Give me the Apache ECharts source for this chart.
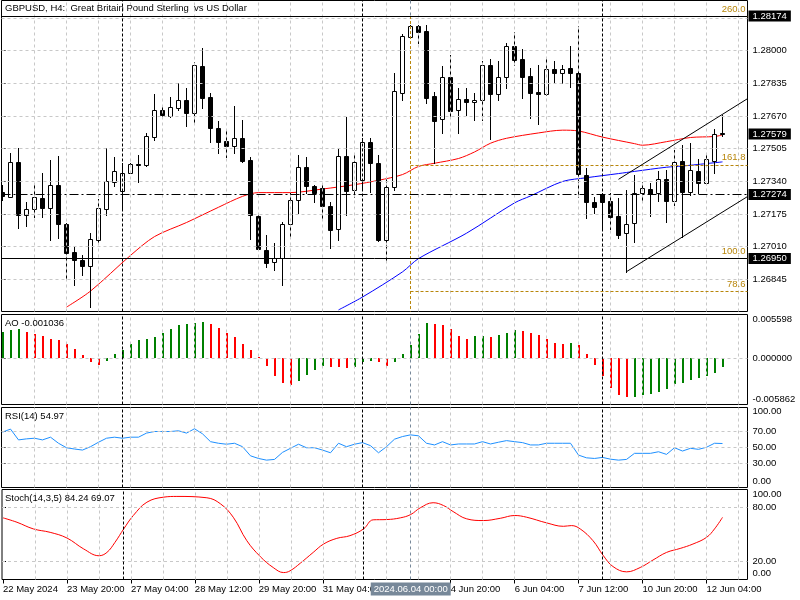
<!DOCTYPE html>
<html><head><meta charset="utf-8">
<script src="https://cdn.jsdelivr.net/npm/echarts@6/dist/echarts.min.js"></script>
<style>html,body{margin:0;padding:0;background:#fff}#c{width:800px;height:600px}</style>
</head><body><div id="c"></div><script>
// ---------------- DATA ----------------
const opens = [1.27286,1.27263,1.27439,1.27169,1.27199,1.27254,1.27204,1.27322,1.27123,1.26985,
1.26943,1.26914,1.27044,1.27200,1.27338,1.27293,1.27384,1.27428,1.27422,1.27565,
1.27700,1.27671,1.27712,1.27750,1.27686,1.27922,1.27767,1.27611,1.27544,1.27520,
1.27560,1.27448,1.27165,1.26994,1.26935,1.26952,1.27125,1.27246,1.27414,1.27318,
1.27305,1.27216,1.27098,1.27468,1.27296,1.27347,1.27537,1.27431,1.27044,1.27313,
1.27787,1.28070,1.28124,1.28100,1.27771,1.27655,1.27865,1.27700,1.27755,1.27739,
1.27750,1.27927,1.27781,1.27865,1.28023,1.27956,1.27872,1.27789,1.27781,1.27905,
1.27885,1.27910,1.27888,1.27372,1.27237,1.27276,1.27242,1.27165,1.27078,1.27128,
1.27283,1.27300,1.27280,1.27350,1.27242,1.27443,1.27288,1.27394,1.27333,1.27440,
1.27584];
const highs = [1.27322,1.27483,1.27510,1.27237,1.27322,1.27384,1.27448,1.27468,1.27130,1.27010,
1.26968,1.27078,1.27249,1.27510,1.27464,1.27433,1.27434,1.27473,1.27582,1.27779,
1.27720,1.27764,1.27835,1.27809,1.27944,1.28011,1.27784,1.27646,1.27599,1.27720,
1.27650,1.27464,1.27170,1.27069,1.27027,1.27136,1.27280,1.27473,1.27464,1.27322,
1.27322,1.27234,1.27508,1.27666,1.27473,1.27557,1.27560,1.27473,1.27357,1.27885,
1.28083,1.28129,1.28129,1.28129,1.27792,1.27922,1.27977,1.27811,1.27812,1.27787,
1.27949,1.27956,1.27949,1.28040,1.28095,1.28006,1.27913,1.27927,1.27966,1.27947,
1.27927,1.28023,1.28124,1.27406,1.27263,1.27280,1.27280,1.27254,1.27296,1.27372,
1.27335,1.27330,1.27392,1.27397,1.27498,1.27523,1.27533,1.27451,1.27482,1.27603,
1.27675];
const lows = [1.27246,1.27261,1.27105,1.27115,1.27162,1.27159,1.27044,1.27054,1.26851,1.26817,
1.26867,1.26707,1.27030,1.27170,1.27316,1.27205,1.27381,1.27338,1.27417,1.27549,
1.27670,1.27663,1.27700,1.27619,1.27636,1.27709,1.27540,1.27482,1.27464,1.27482,
1.27438,1.27048,1.26994,1.26909,1.26893,1.26817,1.27061,1.27179,1.27280,1.27237,
1.27145,1.27002,1.27044,1.27170,1.27263,1.27306,1.27288,1.27039,1.26943,1.27296,
1.27750,1.28063,1.28036,1.27734,1.27433,1.27585,1.27670,1.27584,1.27675,1.27650,
1.27650,1.27552,1.27750,1.27809,1.27927,1.27759,1.27658,1.27629,1.27776,1.27838,
1.27835,1.27815,1.27263,1.27154,1.27179,1.27094,1.27100,1.27053,1.26884,1.27035,
1.27246,1.27165,1.27242,1.27136,1.27221,1.27061,1.27271,1.27283,1.27325,1.27381,
1.27569];
const closes = [1.27266,1.27439,1.27170,1.27199,1.27259,1.27204,1.27322,1.27123,1.26977,1.26943,
1.26914,1.27048,1.27204,1.27342,1.27394,1.27384,1.27428,1.27420,1.27569,1.27700,
1.27675,1.27714,1.27750,1.27686,1.27927,1.27762,1.27611,1.27540,1.27520,1.27560,
1.27444,1.27170,1.26999,1.26929,1.26952,1.27125,1.27246,1.27414,1.27318,1.27283,
1.27216,1.27094,1.27468,1.27293,1.27439,1.27537,1.27431,1.27044,1.27310,1.27797,
1.28073,1.28124,1.28095,1.27759,1.27646,1.27865,1.27696,1.27754,1.27739,1.27750,
1.27927,1.27781,1.27865,1.28023,1.27952,1.27868,1.27787,1.27781,1.27905,1.27885,
1.27905,1.27885,1.27377,1.27237,1.27209,1.27237,1.27162,1.27069,1.27125,1.27283,
1.27305,1.27276,1.27350,1.27242,1.27439,1.27288,1.27397,1.27333,1.27453,1.27577,
1.27579];

// moving averages, read at bar positions [bar index, price]
const maRedBars = [8,11,16,19,23,27,30,32,36,40,44,47,50,52,54,57,59,61,63,67,70,72,75,79,80,83,86,89,90];
const maRedVals = [1.26705,1.26786,1.26966,1.27061,1.27132,1.27209,1.27264,1.27283,1.27283,1.27301,1.27323,1.27345,1.27374,1.27415,1.27431,1.27455,1.27488,1.27532,1.27557,1.27584,1.27598,1.27594,1.27563,1.27530,1.27522,1.27540,1.27561,1.27566,1.27574];
const maBlueBars = [42,45,50,52,58,64,66,70,73,77,79,83,85,90];
const maBlueVals = [1.26691,1.26756,1.26883,1.26950,1.27078,1.27231,1.27266,1.27339,1.27358,1.27379,1.27390,1.27411,1.27417,1.27438];

const aoValues = [0.003413,0.003666,0.003704,0.003375,0.003160,0.002869,0.002528,0.002313,0.001896,0.001176,
0.000417,-0.000417,-0.000847,-0.000291,0.000544,0.001049,0.001808,0.002313,0.002440,0.002743,
0.003286,0.003704,0.004209,0.004424,0.004512,0.004588,0.004336,0.003880,0.003286,0.002743,
0.001896,0.001049,0.000215,-0.000923,-0.002187,-0.003160,-0.003324,-0.002819,-0.002111,-0.001479,
-0.000923,-0.001049,-0.001138,-0.001176,-0.001138,-0.000468,-0.000291,-0.000417,-0.000923,-0.000417,
0.000544,0.001681,0.003072,0.004512,0.004424,0.004209,0.003704,0.002819,0.002528,0.002819,
0.002869,0.002743,0.002945,0.003248,0.003577,0.003501,0.003286,0.002945,0.002528,0.002022,
0.001896,0.001934,0.001681,0.000544,-0.000847,-0.002237,-0.003704,-0.004715,-0.004968,-0.004930,
-0.004715,-0.004512,-0.004298,-0.003880,-0.003248,-0.003160,-0.002743,-0.002440,-0.002187,-0.001808,
-0.001036];

const rsiValues = [69.2,73.0,59.5,60.8,61.6,59.5,62.9,55.3,49.7,48.1,
46.8,51.0,56.6,61.6,62.9,61.6,62.9,62.9,68.0,70.0,
70.0,70.0,70.9,68.0,73.4,67.1,57.3,55.3,54.1,55.3,
51.0,39.6,36.3,34.2,35.1,43.9,49.0,54.1,49.7,49.7,
46.8,43.4,55.3,51.0,54.1,56.1,52.3,43.4,51.0,60.4,
63.7,65.8,64.6,55.3,53.2,57.3,53.2,54.4,54.4,54.4,
57.3,54.4,56.6,58.6,57.3,56.1,53.2,53.2,55.3,55.3,
55.3,55.3,40.5,37.1,36.3,37.6,35.4,34.2,35.1,42.7,
42.7,42.7,44.7,41.4,49.7,45.6,49.0,47.7,50.3,55.3,
54.97];

// stochastic signal line, read at positions [bar position, value]
const stochBars = [0,1.75,3.8,5.9,8,10.1,12,13,14,15.1,16.3,18,20.1,21.75,25.5,27.2,28.8,30.5,32.2,33.8,35.1,35.9,37.2,38.8,40.1,41.75,43.4,45.1,46.3,48,49.7,51,52.2,53.8,55.1,56.3,58,60.1,62.2,64,65.5,68,70.1,71.1,72.2,73.8,75.1,76.3,78,79.7,81.3,83,84.7,86.3,88,89,90];
const stochVals = [68.5,63.6,56.2,52.4,46.1,33.9,26.4,30.1,41.2,56.2,71.1,85.9,91.5,92.3,90.8,84.1,69.2,43.1,25.3,13.3,7.7,9.6,18.2,30.1,39.4,45.7,48.7,56.2,66.3,66.6,68.5,72.2,79.7,85.3,82.2,75.5,67.4,65.5,68.0,71.1,69.2,62.9,59.1,59.9,56.2,43.1,26.4,14.4,8.5,13.3,21.6,30.1,34.5,39.4,46.8,56.2,69.07];

// objects
const hLineSolid = [1.28174, 1.26950];
const hLineDashDot = [1.27274];
const bidPrice = 1.27579;
const fibLevels = [78.6, 100.0, 161.8, 260.0];
const fibPrices = [1.26786, 1.26950, 1.27423, 1.28174];
const fibStartBar = 51;
const vLineBar = 51;
const vLineLabel = '2024.06.04 00:00';
const weekStartBars = [15, 45, 75];
const channelUpper = [[77, 1.27350], [93.125, 1.27757]];
const channelLower = [[78, 1.26884], [93.125, 1.27263]];

// axis ticks / labels
const priceTicks = [1.26845,1.27010,1.27175,1.27340,1.27505,1.27670,1.27835,1.28000];
const priceGridExtra = [1.28165];
const timeTickBars = [0,8,16,24,32,40,56,64,72,80,88];
const timeLabels = ['22 May 2024','23 May 20:00','27 May 04:00','28 May 12:00','29 May 20:00','31 May 04:00','4 Jun 20:00','6 Jun 04:00','7 Jun 12:00','10 Jun 20:00','12 Jun 04:00'];
const aoTicks = [-0.005862, 0, 0.005598];
const rsiTicks = [0, 30, 50, 70, 100];
const rsiGrid = [30, 50, 70];
const stochTicks = [0, 20, 80, 100];
const stochGrid = [20, 80];

const titleText = 'GBPUSD, H4:  Great Britain Pound Sterling  vs US Dollar';
const aoText = 'AO -0.001036';
const rsiText = 'RSI(14) 54.97';
const stochText = 'Stoch(14,3,5) 84.24 69.07';

// ---------------- RENDER ----------------
const FONT = 'Liberation Sans';
const FS = 9.5;
const GRID_C = '#c8c8c8';
const FIB_C = '#b8860b';
const X_MIN = -0.125, X_MAX = 93.125;
const P_MAX = 1.2825230, P_MIN = 1.2668302;

const gridBars = [];
for (let k = 4; k <= 92; k += 4) gridBars.push(k);

const grids = [
  {left: 1.5, top: 0.5, width: 746, height: 311},
  {left: 1.5, top: 314.5, width: 746, height: 90},
  {left: 1.5, top: 407.5, width: 746, height: 80},
  {left: 1.5, top: 489.5, width: 746, height: 90}
].map(g => Object.assign({show: true, borderColor: '#000', borderWidth: 1, backgroundColor: 'transparent', containLabel: false}, g));

function xAxisCfg(i, labels) {
  const a = {type: 'value', gridIndex: i, min: X_MIN, max: X_MAX,
    axisLine: {show: false}, splitLine: {show: false}, axisTick: {show: false}, axisLabel: {show: false}};
  if (labels) {
    a.axisTick = {show: true, customValues: timeTickBars, length: 4, lineStyle: {color: '#000'}};
    a.axisLabel = {show: true, customValues: timeTickBars, align: 'left', margin: 5,
      fontFamily: FONT, fontSize: FS, color: '#000',
      formatter: v => { const i = timeTickBars.indexOf(Math.round(v)); return i >= 0 ? timeLabels[i] : ''; }};
  }
  return a;
}
function edgeFmt(top, bottom, d) {
  return v => {
    const s = v.toFixed(d);
    if (Math.abs(v - top) < 1e-9) return '{t|' + s + '}';
    if (Math.abs(v - bottom) < 1e-9) return '{b|' + s + '}';
    return s;
  };
}
function yAxisCfg(i, min, max, ticks, fmt, tp, bp) {
  return {type: 'value', gridIndex: i, min, max, position: 'right',
    axisLine: {show: false}, splitLine: {show: false},
    axisTick: {show: true, customValues: ticks, length: 3, lineStyle: {color: '#000'}},
    axisLabel: {show: true, customValues: ticks, margin: 5, fontFamily: FONT, fontSize: FS, color: '#000', formatter: fmt,
      rich: {t: {padding: [tp, 0, 0, 0], fontFamily: FONT, fontSize: FS, color: '#000'},
             b: {padding: [0, 0, bp, 0], fontFamily: FONT, fontSize: FS, color: '#000'}}}};
}

const xAxes = [xAxisCfg(0, false), xAxisCfg(1, false), xAxisCfg(2, false), xAxisCfg(3, true)];
const yAxes = [
  yAxisCfg(0, P_MIN, P_MAX, priceTicks, v => v.toFixed(5), 0, 0),
  yAxisCfg(1, -0.005862, 0.005598, aoTicks, edgeFmt(0.005598, -0.005862, 6), 10, 10),
  yAxisCfg(2, 0, 100, rsiTicks, edgeFmt(100, 0, 2), 8, 12),
  yAxisCfg(3, 0, 100, stochTicks, edgeFmt(100, 0, 2), 9, 12)
];

function ml(data, lineStyle, extra) {
  return Object.assign({silent: true, symbol: ['none', 'none'], animation: false, precision: 8,
    label: {show: false}, lineStyle, data}, extra || {});
}
function holder(i, markLine, z) {
  return {type: 'line', xAxisIndex: i, yAxisIndex: i, data: [], silent: true, z, markLine};
}

const gridDash = {color: GRID_C, type: [3, 3], width: 1};
const sepStyle = {color: '#000', type: [3, 2], width: 1};
const vStyle = {color: '#778899', type: [3, 3], width: 1};

const series = [];
// grid lines
const hGrids = [priceTicks.concat(priceGridExtra), [0], rsiGrid, stochGrid];
for (let i = 0; i < 4; i++) {
  series.push(holder(i, ml(hGrids[i].map(v => ({yAxis: v})).concat(gridBars.map(k => ({xAxis: k}))), gridDash), 1));
  series.push(holder(i, ml(weekStartBars.map(k => ({xAxis: k})), sepStyle), 2));
}
// vertical line object
series.push(holder(0, ml([[{coord: [vLineBar, P_MAX]}, {coord: [vLineBar, fibPrices[3]]}]], vStyle), 2));
series.push(holder(1, ml([{xAxis: vLineBar}], vStyle), 2));
series.push(holder(2, ml([{xAxis: vLineBar}], vStyle), 2));
series.push(holder(3, ml([{xAxis: vLineBar, label: {show: true, position: 'start', distance: 3, formatter: vLineLabel,
  backgroundColor: '#778899', color: '#fff', padding: [2, 3, 1, 3], fontFamily: FONT, fontSize: FS}}], vStyle), 3));

// fibonacci
const fibData = fibPrices.map((p, i) => [{coord: [fibStartBar, p]}, {coord: [X_MAX, p],
  label: {show: true, position: 'insideEndTop', distance: 2, formatter: fibLevels[i].toFixed(1), color: FIB_C, fontFamily: FONT, fontSize: FS}}]);
fibData.push([{coord: [fibStartBar, fibPrices[3]]}, {coord: [fibStartBar, P_MIN]}]);
series.push(holder(0, ml(fibData, {color: FIB_C, type: [3, 2], width: 1}), 3));

// moving averages
series.push({type: 'line', xAxisIndex: 0, yAxisIndex: 0, data: maRedBars.map((k, i) => [k, maRedVals[i]]),
  showSymbol: false, smooth: 0.3, lineStyle: {color: '#ff0000', width: 1}, silent: true, z: 3, animation: false});
series.push({type: 'line', xAxisIndex: 0, yAxisIndex: 0, data: maBlueBars.map((k, i) => [k, maBlueVals[i]]),
  showSymbol: false, smooth: 0.3, lineStyle: {color: '#0000ff', width: 1}, silent: true, z: 3, animation: false});

// candles
series.push({type: 'custom', xAxisIndex: 0, yAxisIndex: 0, z: 4, clip: true, silent: true, animation: false,
  data: opens.map((o, i) => [i, o, highs[i], lows[i], closes[i]]),
  renderItem: (params, api) => {
    const k = api.value(0), o = api.value(1), h = api.value(2), l = api.value(3), c = api.value(4);
    const po = api.coord([k, o]), pc = api.coord([k, c]), ph = api.coord([k, h]), pl = api.coord([k, l]);
    const cx = Math.floor(po[0]) + 0.5;
    const yo = Math.round(po[1]), yc = Math.round(pc[1]), yh = Math.round(ph[1]), yl = Math.round(pl[1]);
    const top = Math.min(yo, yc), bot = Math.max(yo, yc);
    const ch = [{type: 'line', shape: {x1: cx, y1: yh, x2: cx, y2: yl + 1}, style: {stroke: '#000', lineWidth: 1}}];
    if (bot - top < 1) ch.push({type: 'line', shape: {x1: cx - 2.5, y1: top + 0.5, x2: cx + 2.5, y2: top + 0.5}, style: {stroke: '#000', lineWidth: 1}});
    else ch.push({type: 'rect', shape: {x: cx - 2, y: top + 0.5, width: 4, height: bot - top}, style: {fill: c > o ? '#fff' : '#000', stroke: '#000', lineWidth: 1}});
    return {type: 'group', children: ch};
  }});

// channel
[channelUpper, channelLower].forEach(d => series.push({type: 'line', xAxisIndex: 0, yAxisIndex: 0, data: d,
  showSymbol: false, lineStyle: {color: '#000', width: 1}, silent: true, z: 5, animation: false}));

// horizontal line objects + price tags
const tag = p => ({show: true, position: 'end', distance: 1, formatter: p.toFixed(5), backgroundColor: '#000', color: '#fff',
  padding: [1, 4, 0, 4], fontFamily: FONT, fontSize: FS, opacity: 1});
const hData = hLineSolid.map(p => ({yAxis: p, lineStyle: {color: '#000', type: 'solid', width: 1}, label: tag(p)}))
  .concat(hLineDashDot.map(p => ({yAxis: p, lineStyle: {color: '#000', type: [9, 3, 2, 3], width: 1}, label: tag(p)})))
  .concat([{yAxis: bidPrice, lineStyle: {color: 'rgba(0,0,0,0)', width: 1}, label: tag(bidPrice)}]);
series.push(holder(0, ml(hData, {color: '#000', width: 1}), 6));

// AO
series.push({type: 'custom', xAxisIndex: 1, yAxisIndex: 1, z: 4, clip: true, silent: true, animation: false,
  data: aoValues.map((v, i) => [i, v, (i === 0 || v > aoValues[i - 1]) ? 1 : 0]),
  renderItem: (params, api) => {
    const k = api.value(0), v = api.value(1), up = api.value(2);
    const p0 = api.coord([k, 0]), p1 = api.coord([k, v]);
    const x = Math.floor(p0[0]);
    const y0 = Math.round(p0[1]), y1 = Math.round(p1[1]);
    return {type: 'rect', shape: {x: x, y: Math.min(y0, y1), width: 2, height: Math.max(1, Math.abs(y1 - y0))},
      style: {fill: up ? '#008000' : '#ff0000'}};
  }});
// RSI
series.push({type: 'line', xAxisIndex: 2, yAxisIndex: 2, data: rsiValues.map((v, i) => [i, v]),
  showSymbol: false, lineStyle: {color: '#1e90ff', width: 1}, silent: true, z: 4, animation: false});
// Stoch
series.push({type: 'line', xAxisIndex: 3, yAxisIndex: 3, data: stochBars.map((k, i) => [k, stochVals[i]]),
  showSymbol: false, smooth: 0.4, lineStyle: {color: '#ff0000', width: 1}, silent: true, z: 4, animation: false});

const tStyle = {fontFamily: FONT, fontSize: FS, fontWeight: 'normal', color: '#000'};
const option = {
  animation: false,
  backgroundColor: '#fff',
  textStyle: {fontFamily: FONT},
  title: [
    {text: titleText, left: 5, top: 3, padding: 0, textStyle: tStyle},
    {text: aoText, left: 5, top: 318, padding: 0, textStyle: tStyle},
    {text: rsiText, left: 5, top: 411, padding: 0, textStyle: tStyle},
    {text: stochText, left: 5, top: 493, padding: 0, textStyle: tStyle}
  ],
  grid: grids, xAxis: xAxes, yAxis: yAxes, series
};
const chart = echarts.init(document.getElementById('c'));
chart.setOption(option);
</script></body></html>
